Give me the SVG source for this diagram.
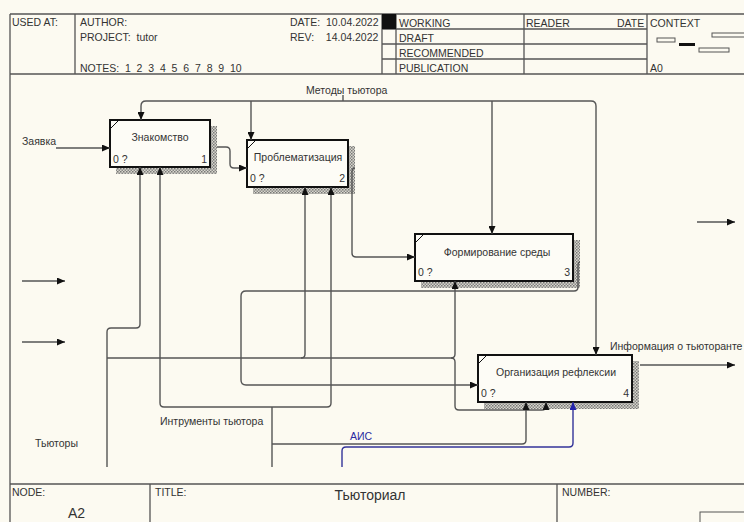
<svg xmlns="http://www.w3.org/2000/svg" width="744" height="522" viewBox="0 0 744 522">
<defs>
<style>
text{font-family:"Liberation Sans",Arial,sans-serif;fill:#333}
.h{font-size:10.5px}
.lbl{font-size:10.5px}
.frame{stroke:#555;stroke-width:1.3;fill:none}
.box{fill:#fdfcf6;stroke:#111;stroke-width:2}
.sh{fill:url(#hatch)}
.c{fill:none;stroke:#555;stroke-width:1.4}
.cb{fill:none;stroke:#333399;stroke-width:1.4}
</style>
<pattern id="hatch" width="3" height="3" patternUnits="userSpaceOnUse">
<rect width="3" height="3" fill="#d8d6cc"/>
<rect width="1.5" height="1.5" fill="#777"/>
<rect x="1.5" y="1.5" width="1.5" height="1.5" fill="#888"/>
</pattern>
<marker id="a" markerWidth="8" markerHeight="7" refX="8" refY="3.5" orient="auto" markerUnits="userSpaceOnUse">
<path d="M0,0 L8,3.5 L0,7 z" fill="#111"/>
</marker>
<marker id="ab" markerWidth="8" markerHeight="7" refX="8" refY="3.5" orient="auto" markerUnits="userSpaceOnUse">
<path d="M0,0 L8,3.5 L0,7 z" fill="#2222aa"/>
</marker>
</defs>
<rect width="744" height="522" fill="#fcfaf1"/>

<g id="header">
<path class="frame" d="M10,14 H744 M10,14 V522 M10,74 H744 M75,14 V74 M382,14 V74 M396,14 V74 M524,14 V74 M647,14 V74 M382,29 H647 M382,44 H647 M382,59 H647"/>
<rect x="382" y="14" width="14" height="15" fill="#111"/>
<text class="h" x="12" y="26">USED AT:</text>
<text class="h" x="80" y="26">AUTHOR:</text>
<text class="h" x="80" y="41" xml:space="preserve">PROJECT:  tutor</text>
<text class="h" x="80" y="72" xml:space="preserve">NOTES:  1  2  3  4  5  6  7  8  9  10</text>
<text class="h" x="290" y="26" xml:space="preserve">DATE:  10.04.2022</text>
<text class="h" x="290" y="41" xml:space="preserve">REV:    14.04.2022</text>
<text class="h" x="399" y="27">WORKING</text>
<text class="h" x="399" y="42">DRAFT</text>
<text class="h" x="399" y="57">RECOMMENDED</text>
<text class="h" x="399" y="72">PUBLICATION</text>
<text class="h" x="526" y="27">READER</text>
<text class="h" x="617" y="27">DATE</text>
<text class="h" x="650" y="27">CONTEXT</text>
<text class="h" x="650" y="72">A0</text>
<rect x="657" y="38" width="18" height="4" fill="none" stroke="#555" stroke-width="1"/>
<rect x="679" y="43" width="16" height="3" fill="#111"/>
<rect x="699" y="48" width="30" height="4" fill="none" stroke="#555" stroke-width="1"/>
<rect x="712" y="33" width="34" height="4" fill="none" stroke="#555" stroke-width="1"/>
</g>

<g id="footer">
<path class="frame" d="M10,484 H744 M150,484 V522 M557,484 V522"/>
<text class="h" x="12" y="496">NODE:</text>
<text x="68" y="518" style="font-size:14px">A2</text>
<text class="h" x="155" y="496">TITLE:</text>
<text x="370" y="500" text-anchor="middle" style="font-size:14px">Тьюториал</text>
<text class="h" x="562" y="496">NUMBER:</text>
<rect x="700" y="512" width="50" height="12" fill="none" stroke="#555" stroke-width="1"/>
</g>

<g id="node1">
<path class="sh" d="M210,126 h7 v48 h-101 v-7 h94 z"/>
<rect class="box" x="110" y="120" width="100" height="47"/>
<path d="M111,128 L118,121" stroke="#111" stroke-width="1"/>
<text class="lbl" x="160" y="141" text-anchor="middle">Знакомство</text>
<text class="lbl" x="113" y="163">0 ?</text>
<text class="lbl" x="207" y="163" text-anchor="end">1</text>
</g>

<g id="node2">
<path class="sh" d="M348,146 h7 v48 h-102 v-7 h95 z"/>
<rect class="box" x="247" y="140" width="101" height="47"/>
<path d="M248,148 L255,141" stroke="#111" stroke-width="1"/>
<text class="lbl" x="298" y="161" text-anchor="middle">Проблематизация</text>
<text class="lbl" x="250" y="182">0 ?</text>
<text class="lbl" x="345" y="182" text-anchor="end">2</text>
</g>

<g id="node3">
<path class="sh" d="M573,240 h7 v48 h-159 v-7 h152 z"/>
<rect class="box" x="415" y="234" width="158" height="47"/>
<path d="M416,242 L423,235" stroke="#111" stroke-width="1"/>
<text class="lbl" x="497" y="256" text-anchor="middle">Формирование среды</text>
<text class="lbl" x="418" y="276">0 ?</text>
<text class="lbl" x="570" y="276" text-anchor="end">3</text>
</g>

<g id="node4">
<path class="sh" d="M632,361 h7 v48 h-155 v-7 h148 z"/>
<rect class="box" x="478" y="355" width="154" height="47"/>
<path d="M479,363 L486,356" stroke="#111" stroke-width="1"/>
<text class="lbl" x="556" y="376" text-anchor="middle">Организация рефлексии</text>
<text class="lbl" x="481" y="397">0 ?</text>
<text class="lbl" x="629" y="397" text-anchor="end">4</text>
</g>

<g id="connectors">
<!-- Методы тьютора -->
<path class="c" d="M343,95 V101"/>
<path class="c" d="M146,101 Q141,101 141,106 V120" marker-end="url(#a)"/>
<path class="c" d="M146,101 H591 Q596,101 596,106 V355" marker-end="url(#a)"/>
<path class="c" d="M251,101 V140" marker-end="url(#a)"/>
<path class="c" d="M492,101 V234" marker-end="url(#a)"/>
<!-- Заявка -->
<path class="c" d="M56,148 H110" marker-end="url(#a)"/>
<!-- box1 -> box2 -->
<path class="c" d="M217,147 H226 Q230,147 230,151 V164 Q230,168 234,168 H247" marker-end="url(#a)"/>
<!-- box2 -> box3 -->
<path class="c" d="M355,168 Q352,168 352,172 V253 Q352,257 356,257 H415" marker-end="url(#a)"/>
<!-- box3 -> box4 -->
<path class="c" d="M580,262 Q578,262 578,266 V287 Q578,291 574,291 H246 Q241,291 241,296 V380 Q241,385 246,385 H478" marker-end="url(#a)"/>
<!-- Тьюторы -->
<path class="c" d="M107,467 V332 Q107,328 111,328 H136 Q140,328 140,324 V167" marker-end="url(#a)"/>
<path class="c" d="M107,358 H451 Q455,358 455,354 V281" marker-end="url(#a)"/>
<path class="c" d="M451,358 Q455,358 455,362 V406 Q455,410 459,410 H542 Q546,410 546,406 V402" marker-end="url(#a)"/>
<path class="c" d="M301,358 Q305,358 305,354 V187" marker-end="url(#a)"/>
<!-- Интрументы тьютора -->
<path class="c" d="M272,467 V407"/>
<path class="c" d="M164,407 Q160,407 160,403 V167" marker-end="url(#a)"/>
<path class="c" d="M164,407 H327 Q331,407 331,403 V187" marker-end="url(#a)"/>
<path class="c" d="M272,444 H522 Q526,444 526,440 V402" marker-end="url(#a)"/>
<!-- АИС -->
<path class="cb" d="M342,467 V451 Q342,447 346,447 H569 Q573,447 573,443 V402" marker-end="url(#ab)"/>
<!-- free arrows -->
<path class="c" d="M22,281 H65" marker-end="url(#a)"/>
<path class="c" d="M22,342 H65" marker-end="url(#a)"/>
<path class="c" d="M697,222 H735" marker-end="url(#a)"/>
<!-- output box4 -->
<path class="c" d="M640,365 H735" marker-end="url(#a)"/>
</g>

<g id="labels">
<text class="lbl" x="306" y="94">Методы тьютора</text>
<text class="lbl" x="22" y="145">Заявка</text>
<text class="lbl" x="160" y="425">Интрументы тьютора</text>
<text class="lbl" x="35" y="447">Тьюторы</text>
<text class="lbl" x="350" y="440" style="fill:#2a2aa0">АИС</text>
<text class="lbl" x="610" y="350">Информация о тьюторанте</text>
</g>
</svg>
